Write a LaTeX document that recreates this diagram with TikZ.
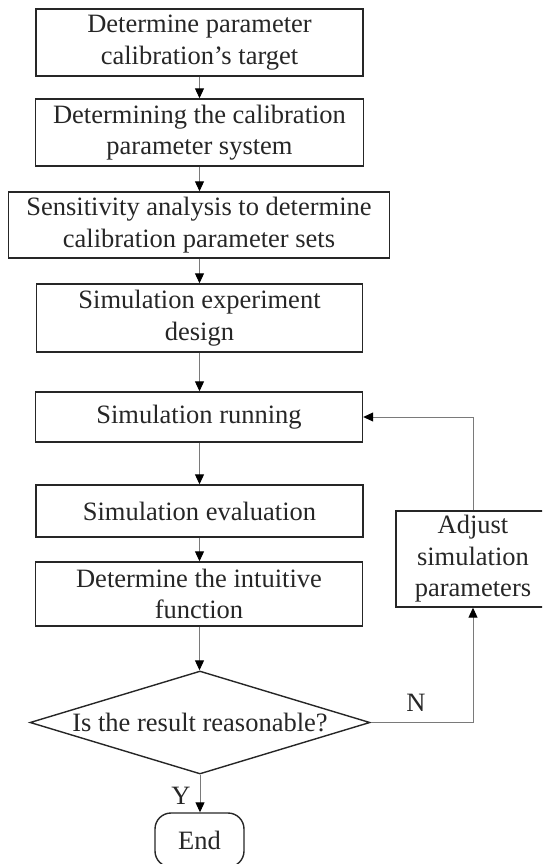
\documentclass[tikz,border=0pt]{standalone}
\usepackage{fontspec}
\setmainfont{Liberation Serif}
\usetikzlibrary{arrows.meta,shapes.geometric}
\definecolor{ink}{HTML}{262626}
\definecolor{wire}{HTML}{7A7A7A}
\tikzset{
  txt/.style={text=ink, font=\fontsize{26.5}{31.5}\selectfont},
  boxnode/.style={txt, draw=ink, line width=1.4pt, rectangle, inner sep=0pt, align=center},
  dianode/.style={txt, draw=ink, line width=1.4pt, diamond, aspect=3.3, inner sep=0pt},
  endnode/.style={txt, draw=ink, line width=1.4pt, rectangle, rounded corners=16pt, inner sep=0pt},
  lbl/.style={txt, inner sep=0pt},
  arr/.style={draw=wire, line width=1pt, -{Triangle[length=10pt,width=9pt,color=black]}}
}
\begin{document}
\begin{tikzpicture}[x=1pt,y=-1pt]
\useasboundingbox (0,0) rectangle (542,864);
\clip (0,0) rectangle (542,864);
\node[boxnode, minimum width=327pt, minimum height=67pt] (b1) at (199.5,42.5) {Determine parameter\\calibration’s target};
\node[boxnode, minimum width=328pt, minimum height=67pt] (b2) at (199.5,132.5) {Determining the calibration\\parameter system};
\node[boxnode, minimum width=381pt, minimum height=66pt] (b3) at (199,225) {Sensitivity analysis to determine\\calibration parameter sets};
\node[boxnode, minimum width=326pt, minimum height=68pt] (b4) at (199.5,318) {Simulation experiment\\design};
\node[boxnode, minimum width=327pt, minimum height=50pt] (b5) at (199,417) {Simulation running};
\node[boxnode, minimum width=327pt, minimum height=52pt] (b6) at (199.5,511) {Simulation evaluation};
\node[boxnode, minimum width=327pt, minimum height=64pt] (b7) at (199,594) {Determine the intuitive\\function};
\node[dianode, minimum width=340pt, minimum height=103pt] (dia) at (200,722.5) {Is the result reasonable?};
\node[endnode, minimum width=89pt, minimum height=54pt] (end) at (199.5,840) {End};
\node[boxnode, minimum width=154pt, minimum height=96pt] (adj) at (473,559) {Adjust\\simulation\\parameters};
\draw[arr] (b1.south) -- (b1.south |- b2.north);
\draw[arr] (b2.south) -- (b2.south |- b3.north);
\draw[arr] (b2.south |- b3.south) -- (b2.south |- b4.north);
\draw[arr] (b4.south) -- (b4.south |- b5.north);
\draw[arr] (b4.south |- b5.south) -- (b4.south |- b6.north);
\draw[arr] (b6.south) -- (b6.south |- b7.north);
\draw[arr] (b6.south |- b7.south) -- (b6.south |- dia.north);
\draw[arr] (dia.south) -- (dia.south |- end.north);
\draw[arr] (dia.east) -| (adj.south);
\draw[arr] (adj.north) |- (b5.east);
\node[lbl] (nlab) at (416,703) {N};
\node[lbl] (ylab) at (181,796) {Y};
\end{tikzpicture}
\end{document}
